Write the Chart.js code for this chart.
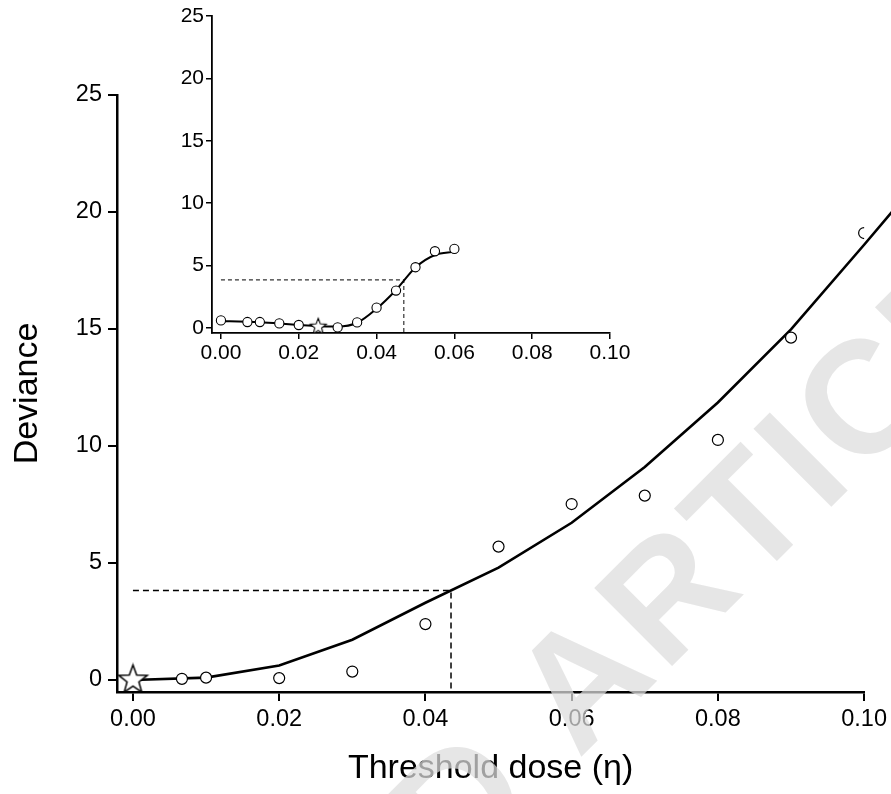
<!DOCTYPE html>
<html><head><meta charset="utf-8">
<script src="https://cdn.jsdelivr.net/npm/chart.js@4.4.1/dist/chart.umd.min.js"></script>
<style>
html,body{margin:0;padding:0;background:#fff;}
#wrap{position:relative;width:891px;height:794px;overflow:hidden;background:#fff;}
#main{position:absolute;left:0;top:0;}
#inset{position:absolute;left:150px;top:0;}
</style></head><body>
<div id="wrap">
<canvas id="main" width="891" height="794"></canvas>
<canvas id="inset" width="500" height="370"></canvas>
</div>
<script>
// ---------- data: main panel ----------
const mainFitDose      = [0, 0.01, 0.02, 0.03, 0.04, 0.05, 0.06, 0.07, 0.08, 0.09, 0.10, 0.11];
const mainFitDeviance  = [0, 0.1, 0.62, 1.72, 3.3, 4.8, 6.72, 9.1, 11.86, 14.98, 18.6, 22.3];
const mainObsDose      = [0.0067, 0.01, 0.02, 0.03, 0.04, 0.05, 0.06, 0.07, 0.08, 0.09, 0.10];
const mainObsDeviance  = [0.05, 0.1, 0.08, 0.36, 2.39, 5.7, 7.52, 7.88, 10.26, 14.63, 19.1];
const mainBestDose     = [0];
const mainBestDeviance = [0];
const mainCutDose      = 0.0435;
const mainCutDeviance  = 3.82;
const mainXTicks       = [0, 0.02, 0.04, 0.06, 0.08, 0.10];
const mainYTicks       = [0, 5, 10, 15, 20, 25];

// ---------- data: inset panel ----------
const insetFitDose      = [0, 0.0068, 0.01, 0.015, 0.02, 0.025, 0.03, 0.035, 0.04, 0.045, 0.05, 0.055, 0.06];
const insetFitDeviance  = [0.55, 0.5, 0.46, 0.36, 0.24, 0.14, 0.12, 0.42, 1.55, 3.05, 4.85, 5.85, 6.1];
const insetObsDose      = [0, 0.0068, 0.01, 0.015, 0.02, 0.03, 0.035, 0.04, 0.045, 0.05, 0.055, 0.06];
const insetObsDeviance  = [0.61, 0.48, 0.48, 0.37, 0.24, 0.05, 0.45, 1.63, 3.0, 4.87, 6.15, 6.34];
const insetBestDose     = [0.025];
const insetBestDeviance = [0.1];
const insetCutDose      = 0.047;
const insetCutDeviance  = 3.85;
const insetXTicks       = [0, 0.02, 0.04, 0.06, 0.08, 0.10];
const insetYTicks       = [0, 5, 10, 15, 20, 25];

const xTitle = 'Threshold dose (\u03B7)';
const yTitle = 'Deviance';
const watermarkText = 'RETRACTED ARTICLE';

// ---------- helpers ----------
const FONT = '"Liberation Sans", Arial, Helvetica, sans-serif';
function pts(xs, ys) { return xs.map((x, i) => ({ x: x, y: ys[i] })); }

function makeStar(R, r, lw) {
  const size = Math.ceil(2 * R + 2 * lw + 2);
  const c = document.createElement('canvas');
  c.width = size; c.height = size;
  const g = c.getContext('2d');
  g.translate(size / 2, size / 2);
  g.beginPath();
  for (let i = 0; i < 10; i++) {
    const rad = (i % 2 === 0) ? R : r;
    const a = -Math.PI / 2 + i * Math.PI / 5;
    const px = rad * Math.cos(a), py = rad * Math.sin(a);
    if (i === 0) g.moveTo(px, py); else g.lineTo(px, py);
  }
  g.closePath();
  g.fillStyle = '#fff';
  g.fill();
  g.lineWidth = lw;
  g.lineJoin = 'miter';
  g.strokeStyle = '#000';
  g.stroke();
  return c;
}

const watermarkPlugin = {
  id: 'watermark',
  afterDraw(chart) {
    const ctx = chart.ctx;
    ctx.save();
    ctx.font = 'bold 160px ' + FONT;
    if ('letterSpacing' in ctx) ctx.letterSpacing = '6px';
    ctx.fillStyle = 'rgba(220,220,220,0.725)';
    ctx.textBaseline = 'alphabetic';
    ctx.textAlign = 'left';
    ctx.translate(578.5, 759.5);
    ctx.rotate(-Math.PI / 4);
    const pre = ctx.measureText('RETRACTED ').width;
    ctx.fillText(watermarkText, -pre, 0);
    ctx.restore();
  }
};

function axisConf(opts) {
  return {
    type: 'linear',
    min: opts.min, max: opts.max,
    afterFit: opts.afterFit,
    afterBuildTicks: s => { s.ticks = opts.ticks.map(v => ({ value: v })); },
    ticks: {
      callback: opts.fmt,
      font: { family: FONT, size: opts.fontSize },
      color: '#000',
      padding: opts.pad,
      maxRotation: 0, minRotation: 0, autoSkip: false
    },
    grid: { display: true, drawOnChartArea: false, drawTicks: true, tickLength: opts.tickLen, color: '#000', lineWidth: opts.tickW },
    border: { display: true, color: '#000', width: opts.axisW },
    title: opts.title
  };
}

// ---------- main chart ----------
const MAIN_YMIN = -0.513;
new Chart(document.getElementById('main'), {
  type: 'scatter',
  data: {
    datasets: [
      { data: pts(mainBestDose, mainBestDeviance), pointStyle: makeStar(15, 6.2, 1.5), pointRadius: 14, showLine: false, order: 0 },
      { data: pts(mainObsDose, mainObsDeviance), pointStyle: 'circle', pointRadius: 5.5, pointBackgroundColor: '#fff', pointBorderColor: '#000', pointBorderWidth: 1.2, showLine: false, order: 1 },
      { data: pts(mainFitDose, mainFitDeviance), showLine: true, borderColor: '#000', borderWidth: 2.6, pointRadius: 0, fill: false, tension: 0, clip: false, order: 2 },
      { data: [{ x: 0, y: mainCutDeviance }, { x: mainCutDose, y: mainCutDeviance }, { x: mainCutDose, y: MAIN_YMIN }], showLine: true, borderColor: '#000', borderWidth: 1.5, borderDash: [6, 4], pointRadius: 0, fill: false, order: 3 }
    ]
  },
  options: {
    responsive: false, animation: false, devicePixelRatio: 1,
    layout: { padding: { top: 95, right: 24.5, left: 0, bottom: 0 } },
    plugins: { legend: { display: false }, tooltip: { enabled: false } },
    scales: {
      x: axisConf({ min: -0.00218, max: 0.1000001, ticks: mainXTicks, fmt: v => Number(v).toFixed(2), fontSize: 23.5, pad: 4,
        tickLen: 9, tickW: 2, axisW: 2.5, afterFit: s => { s.height = 102; },
        title: { display: true, text: xTitle, font: { family: FONT, size: 34 }, color: '#000', padding: { bottom: 4.6, top: 0 } } }),
      y: axisConf({ min: MAIN_YMIN, max: 25, ticks: mainYTicks, fmt: v => String(v), fontSize: 23.5, pad: 6,
        tickLen: 9, tickW: 2, axisW: 2.5, afterFit: s => { s.width = 117; },
        title: { display: true, text: yTitle, font: { family: FONT, size: 34 }, color: '#000', padding: { top: 7.1, bottom: 0 } } })
    }
  },
  plugins: [watermarkPlugin]
});

// ---------- inset chart ----------
const INSET_YMIN = -0.4;
new Chart(document.getElementById('inset'), {
  type: 'scatter',
  data: {
    datasets: [
      { data: pts(insetBestDose, insetBestDeviance), pointStyle: makeStar(8.5, 3.6, 1.1), pointRadius: 8, showLine: false, order: 0 },
      { data: pts(insetObsDose, insetObsDeviance), pointStyle: 'circle', pointRadius: 4.6, pointBackgroundColor: '#fff', pointBorderColor: '#000', pointBorderWidth: 1.1, showLine: false, order: 1 },
      { data: pts(insetFitDose, insetFitDeviance), showLine: true, borderColor: '#000', borderWidth: 2, pointRadius: 0, fill: false, cubicInterpolationMode: 'monotone', order: 2 },
      { data: [{ x: 0, y: insetCutDeviance }, { x: insetCutDose, y: insetCutDeviance }, { x: insetCutDose, y: INSET_YMIN }], showLine: true, borderColor: '#333', borderWidth: 1.2, borderDash: [4, 3], pointRadius: 0, fill: false, order: 3 }
    ]
  },
  options: {
    responsive: false, animation: false, devicePixelRatio: 1,
    layout: { padding: { top: 16, right: 40, left: 0, bottom: 0 } },
    plugins: { legend: { display: false }, tooltip: { enabled: false } },
    scales: {
      x: axisConf({ min: -0.0023, max: 0.10, ticks: insetXTicks, fmt: v => Number(v).toFixed(2), fontSize: 21, pad: 2,
        tickLen: 6, tickW: 1.5, axisW: 1.8, afterFit: s => { s.height = 37; }, title: { display: false } }),
      y: axisConf({ min: INSET_YMIN, max: 25, ticks: insetYTicks, fmt: v => String(v), fontSize: 21, pad: 2,
        tickLen: 6, tickW: 1.5, axisW: 1.8, afterFit: s => { s.width = 62; }, title: { display: false } })
    }
  }
});
</script>
</body></html>
